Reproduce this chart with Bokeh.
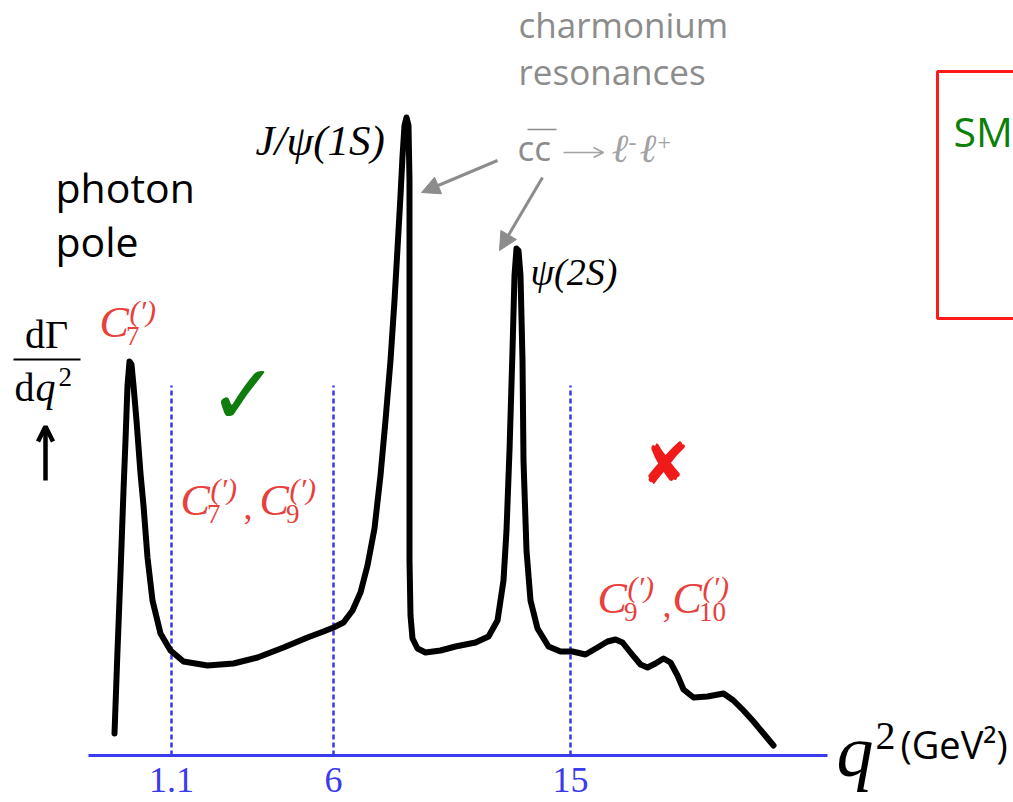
from bokeh.plotting import figure
from bokeh.models import Range1d, Label, Arrow, NormalHead, OpenHead, FixedTicker, LinearAxis
from bokeh.embed import file_html
from bokeh.resources import INLINE

# ---- data (schematic: x in drawing units along the q^2 axis, y = height of dGamma/dq^2) ----
curve_x = [114, 117, 120, 123, 125, 127, 129, 131, 133, 136, 140, 143, 147, 152, 160, 170,
           183, 207, 233, 257, 283, 307, 323, 333, 343, 352, 360, 367, 374, 380, 385, 390,
           394, 397, 400, 402, 404, 406, 408, 409, 409, 409, 409, 410, 412, 417, 425, 440,
           455, 475, 488, 497, 503, 506, 509, 512, 514, 516, 518, 520, 522, 523, 526, 530,
           537, 548, 560, 572, 585, 597, 607, 615, 622, 630, 640, 647, 655, 663, 670, 677,
           683, 693, 707, 723, 733, 743, 753, 763, 773]
curve_y = [22, 105, 182, 265, 315, 370, 394, 391, 370, 335, 282, 250, 198, 155, 122, 105,
           94, 90, 92, 98, 108, 118, 124, 128, 133, 145, 163, 190, 227, 280, 335, 395,
           455, 507, 560, 599, 630, 638, 630, 575, 455, 305, 195, 140, 117, 107, 103, 105,
           109, 113, 119, 135, 175, 225, 305, 405, 480, 507, 505, 480, 395, 295, 205, 155,
           127, 109, 104, 104, 101, 108, 114, 116, 113, 103, 91, 88, 92, 97, 93, 80,
           66, 58, 59, 62, 55, 45, 34, 22, 10]

tick_labels = ["1.1", "6", "15"]
tick_pos = [171, 333, 570]
bin_top = 370

BLUE = "#3a3aee"
RED = "#e8403a"
GRAY = "#8c8c8c"
LGRAY = "#a2a2a2"
GREEN = "#0e7d0e"

# drawing space: x 0..1013, y measured upward from the q^2 axis
p = figure(width=1013, height=802, x_range=Range1d(0, 1013), y_range=Range1d(-47, 755),
           output_backend="svg", toolbar_location=None,
           x_axis_location=None, y_axis_location=None, min_border=0)
p.outline_line_color = None
p.xgrid.visible = False
p.ygrid.visible = False

ax = LinearAxis(fixed_location=0, ticker=FixedTicker(ticks=tick_pos),
                major_label_overrides={pos: lab for pos, lab in zip(tick_pos, tick_labels)},
                bounds=(88, 827), axis_line_color=BLUE, axis_line_width=3,
                major_tick_line_color=None, minor_tick_line_color=None,
                major_label_text_font="Liberation Serif", major_label_text_font_size="36px",
                major_label_text_color=BLUE, major_label_standoff=6)
p.add_layout(ax, "below")

# bin boundaries
p.segment(x0=tick_pos, y0=[0] * 3, x1=tick_pos, y1=[bin_top] * 3,
          line_color=BLUE, line_width=2.5, line_dash="5 3")

# spectrum
p.line(curve_x, curve_y, line_color="black", line_width=6, line_join="round", line_cap="round")

# red box (SM ...)
p.quad(left=[937], right=[1200], top=[755 - 71], bottom=[755 - 318],
       fill_color=None, line_color="#ff1a1a", line_width=3)

SHIFT = {"Open Sans": 0.388, "Liberation Serif": 0.338, "DejaVu Sans": 0.0}


def lab(x, Y, text, font="Open Sans", size=34, color="black", style="normal",
        align="left", baseline="middle"):
    # Y: wanted baseline (picture rows); label is anchored at the middle of its font box
    y = 755 - Y + SHIFT[font] * size
    p.add_layout(Label(x=x, y=y, text=text, text_font=font, text_font_size=f"{size}px",
                       text_color=color, text_font_style=style, text_align=align,
                       text_baseline=baseline))


def wc(x, Y, sub, size=44):
    lab(x, Y, "C", font="Liberation Serif", size=size, color=RED, style="italic")
    lab(x + 0.6 * size, Y + 8, sub, font="Liberation Serif", size=int(size * 0.62), color=RED)
    lab(x + 0.68 * size, Y - 17, "(′)", font="Liberation Serif", size=int(size * 0.7), color=RED,
        style="italic")


# texts
lab(518, 38, "charmonium", size=35, color=GRAY)
lab(518, 85, "resonances", size=35, color=GRAY)
lab(517, 161, "cc", size=35, color=GRAY)
p.segment(x0=[527], y0=[755 - 129], x1=[556], y1=[755 - 129], line_color=GRAY, line_width=1.5)
p.add_layout(Arrow(x_start=563, y_start=755 - 152, x_end=603, y_end=755 - 152,
                   line_color=LGRAY, line_width=1.5,
                   end=OpenHead(size=10, line_color=LGRAY, line_width=1.5)))
lab(611, 162, "ℓ", font="Liberation Serif", size=40, color=LGRAY, style="italic")
lab(628, 150, "-", font="Liberation Serif", size=24, color=LGRAY)
lab(639, 162, "ℓ", font="Liberation Serif", size=40, color=LGRAY, style="italic")
lab(657, 150, "+", font="Liberation Serif", size=24, color=LGRAY)

lab(255, 155, "J/ψ(1S)", font="Liberation Serif", size=43, style="italic")
lab(530, 284, "ψ(2S)", font="Liberation Serif", size=38, style="italic")

lab(55, 202, "photon", size=41)
lab(55, 256, "pole", size=41)

lab(46, 348, "dΓ", font="Liberation Serif", size=40, align="center")
p.segment(x0=[13], y0=[755 - 359], x1=[80], y1=[755 - 359], line_color="black", line_width=2)
lab(14, 401, "d", font="Liberation Serif", size=40)
lab(35, 401, "q", font="Liberation Serif", size=40, style="italic")
lab(58, 386, "2", font="Liberation Serif", size=27)

p.add_layout(Arrow(x_start=45, y_start=755 - 480, x_end=45, y_end=755 - 426,
                   line_color="black", line_width=4.5,
                   end=OpenHead(size=15, line_color="black", line_width=4.5)))

wc(99, 337, "7")
wc(180, 515, "7")
lab(243, 519, ",", font="Liberation Serif", size=36, color=RED)
wc(259, 515, "9")
wc(597, 613, "9")
lab(662, 617, ",", font="Liberation Serif", size=36, color=RED)
wc(672, 613, "10")

lab(243, 394, "✓", font="DejaVu Sans", size=84, color=GREEN, style="bold", align="center")
lab(665, 463, "✘", font="DejaVu Sans", size=58, color="#f01a1a", style="bold", align="center")

lab(953, 146, "SM", size=41, color="#0a800a")

lab(836, 776, "q", font="Liberation Serif", size=74, style="italic")
lab(875, 749, "2", font="Liberation Serif", size=40)
lab(900, 758, "(GeV²)", size=38)

# arrows from the charmonium note
p.add_layout(Arrow(x_start=497, y_start=755 - 160, x_end=421, y_end=755 - 192,
                   line_color=GRAY, line_width=3,
                   end=NormalHead(size=18, fill_color=GRAY, line_color=GRAY)))
p.add_layout(Arrow(x_start=542, y_start=755 - 177, x_end=499, y_end=755 - 250,
                   line_color=GRAY, line_width=3,
                   end=NormalHead(size=18, fill_color=GRAY, line_color=GRAY)))

open("out.html", "w").write(file_html(p, INLINE))
